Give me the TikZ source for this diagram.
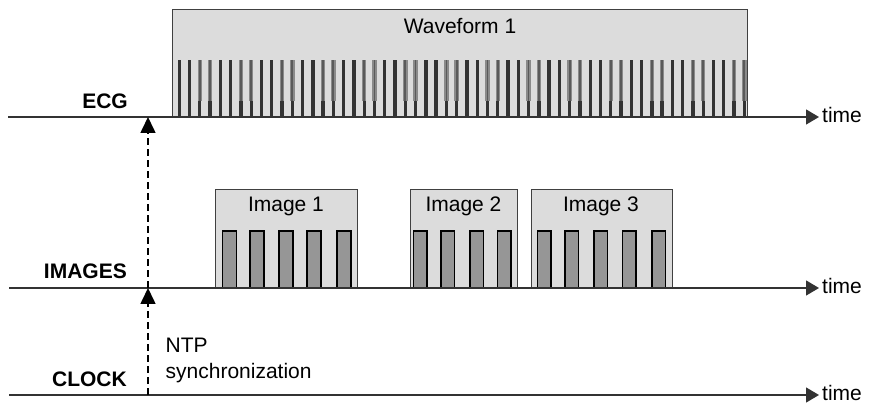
\documentclass[tikz,border=0pt]{standalone}
\usepackage{fontspec}
\setmainfont{Liberation Sans}
\usetikzlibrary{arrows.meta}
\definecolor{boxfill}{HTML}{DCDCDC}
\definecolor{boxline}{HTML}{404040}
\definecolor{barfill}{HTML}{969696}
\definecolor{pulse}{HTML}{333333}
\definecolor{pulsesoft}{HTML}{8A8A8A}
\definecolor{pulsecore}{HTML}{5A5A5A}
\definecolor{axis}{HTML}{333333}

\begin{document}
\begin{tikzpicture}[x=1pt,y=-1pt,
  txt/.style={font=\fontsize{21}{25}\selectfont, inner sep=0pt, anchor=base},
  lbl/.style={font=\fontsize{21}{25}\selectfont\bfseries, inner sep=0pt, anchor=base east},
  axisline/.style={draw=axis, line width=1.4pt, -{Triangle[length=13pt,width=15pt]}},
  syncarrow/.style={draw=black, line width=1.6pt, dash pattern=on 7pt off 4pt,
                    -{Triangle[length=16pt,width=15pt]}},
  frame/.style={fill=boxfill, draw=boxline, line width=1pt},
  frameblk/.style={fill=barfill, draw=black, line width=1.2pt},
]
\useasboundingbox (0,0) rectangle (873,403);

% ---- ECG waveform block ----
\draw[frame] (172,10) rectangle (747,117);
\node[txt] (wave) at (460,33.3) {Waveform 1};
\foreach \i in {0,...,55} {
  \pgfmathsetmacro\xx{179.3+\i*10.273}
  \pgfmathtruncatemacro\m{mod(\i,4)}
  \ifnum\m>1
    \fill[pulsesoft] (\xx-2.2,60) rectangle (\xx+2.2,101);
    \fill[pulsecore] (\xx-0.9,60) rectangle (\xx+0.9,101);
    \fill[pulse] (\xx-1.65,101) rectangle (\xx+1.65,117);
  \else
    \fill[pulse] (\xx-1.65,60) rectangle (\xx+1.65,117);
  \fi
}

% ---- image acquisitions ----
\draw[frame] (215,190) rectangle (357,288);
\node[txt] (img1) at (286,211.7) {Image 1};
\foreach \x in {222.5,250,279,307,337}
  \draw[frameblk] (\x,231) rectangle (\x+14,288);

\draw[frame] (410,190) rectangle (517,288);
\node[txt] (img2) at (463.5,211.7) {Image 2};
\foreach \x in {413.5,441,470,497.5}
  \draw[frameblk] (\x,231) rectangle (\x+13.5,288);

\draw[frame] (531,190) rectangle (672,288);
\node[txt] (img3) at (601,211.7) {Image 3};
\foreach \x in {537.5,565,594,622.5,652}
  \draw[frameblk] (\x,231) rectangle (\x+13.5,288);

% ---- time axes ----
\coordinate (ecgL) at (8,117);   \coordinate (ecgR) at (819,117);
\coordinate (imgL) at (9,288);   \coordinate (imgR) at (819,288);
\coordinate (clkL) at (9,395);   \coordinate (clkR) at (819,395);
\draw[axisline] (ecgL) -- (ecgR);
\draw[axisline] (imgL) -- (imgR);
\draw[axisline] (clkL) -- (clkR);
\node[txt, anchor=base west] (t1) at (822,122.5) {time};
\node[txt, anchor=base west] (t2) at (822,293.5) {time};
\node[txt, anchor=base west] (t3) at (822,400.3) {time};

\node[lbl] (ecg) at (128,108.3) {ECG};
\node[lbl] (images) at (127,278.3) {IMAGES};
\node[lbl] (clock) at (127,386.7) {CLOCK};

% ---- clock synchronisation ----
\coordinate (s0) at (148,395);
\coordinate (s1) at (148,288);
\coordinate (s2) at (148,117);
\draw[syncarrow] (s0) -- (s1);
\draw[syncarrow] (s1) -- (s2);
\node[txt, anchor=base west] (ntp) at (165.5,352.7) {NTP};
\node[txt, anchor=base west] (ntpsync) at (165.5,378) {synchronization};
\end{tikzpicture}
\end{document}
